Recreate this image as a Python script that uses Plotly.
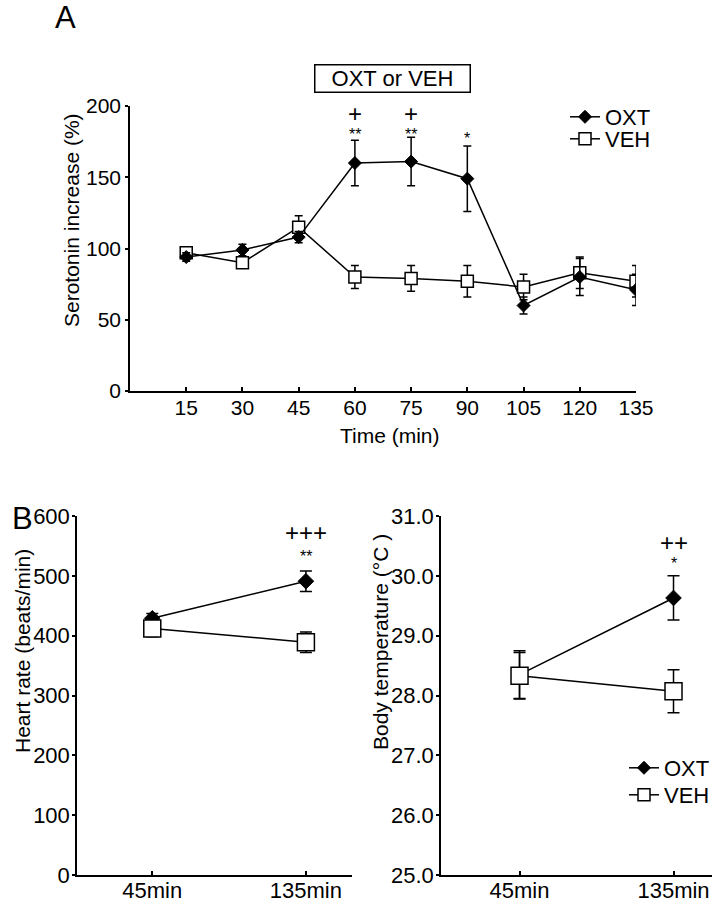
import plotly.graph_objects as go

# ---- panel A: serotonin increase over time ----
time_min = [15, 30, 45, 60, 75, 90, 105, 120, 135]
oxt_sero = [94, 99, 108, 160, 161, 149, 60, 80, 71]
oxt_sero_err = [3, 4, 4, 16, 17, 23, 6, 13, 11]
veh_sero = [97, 90, 115, 80, 79, 77, 73, 83, 77]
veh_sero_err = [4, 3, 8, 8, 9, 11, 9, 11, 11]

sig_a_x = [60, 75, 90]
sig_a_plus = ["+", "+", ""]
sig_a_star = ["**", "**", "*"]
sig_a_star_y = [180, 180, 177.5]

# ---- panel B: heart rate / body temperature ----
b_times = ["45min", "135min"]
oxt_hr = [429, 491]
oxt_hr_err = [8, 17]
veh_hr = [412, 389]
veh_hr_err = [14, 17]
oxt_temp = [28.35, 29.63]
oxt_temp_err = [0.40, 0.37]
veh_temp = [28.33, 28.07]
veh_temp_err = [0.39, 0.36]

W, H = 717, 899
FONT = "Liberation Sans, Arial, Helvetica, sans-serif"


def fx(p):
    return p / W


def fy(p):
    return 1 - p / H


def err(vals, w):
    return dict(type="data", array=vals, color="black", thickness=1.5, width=w)


def note(x, y, text, size, xref="paper", yref="paper", **kw):
    return dict(x=x, y=y, xref=xref, yref=yref, text=text, showarrow=False,
                xanchor="center", yanchor="middle", font=dict(size=size), **kw)


def leg(x, y):
    return dict(x=fx(x), y=fy(y), xanchor="left", yanchor="middle",
                font=dict(size=22), bgcolor="rgba(0,0,0,0)", itemwidth=30)


oxt_style = dict(mode="lines+markers", line=dict(color="black", width=1.5),
                 marker=dict(symbol="diamond", color="black", size=10,
                             line=dict(color="black", width=1)))
veh_style = dict(mode="lines+markers", line=dict(color="black", width=1.5),
                 marker=dict(symbol="square", color="white", size=12,
                             line=dict(color="black", width=1.5)))
big_oxt = dict(oxt_style, marker=dict(oxt_style["marker"], size=12))
big_veh = dict(veh_style, marker=dict(veh_style["marker"], size=17))

fig = go.Figure()

# panel A
fig.add_trace(go.Scatter(x=time_min, y=veh_sero, error_y=err(veh_sero_err, 4),
                         name="VEH", xaxis="x", yaxis="y", legend="legend3",
                         **veh_style))
fig.add_trace(go.Scatter(x=time_min, y=oxt_sero, error_y=err(oxt_sero_err, 4),
                         name="OXT", xaxis="x", yaxis="y", legend="legend",
                         **oxt_style))

# panel B left (heart rate)
fig.add_trace(go.Scatter(x=b_times, y=oxt_hr, error_y=err(oxt_hr_err, 6),
                         name="OXT", xaxis="x2", yaxis="y2", showlegend=False,
                         **big_oxt))
fig.add_trace(go.Scatter(x=b_times, y=veh_hr, error_y=err(veh_hr_err, 6),
                         name="VEH", xaxis="x2", yaxis="y2", showlegend=False,
                         **big_veh))

# panel B right (body temperature)
fig.add_trace(go.Scatter(x=b_times, y=oxt_temp, error_y=err(oxt_temp_err, 6),
                         name="OXT", xaxis="x3", yaxis="y3", showlegend=False,
                         **big_oxt))
fig.add_trace(go.Scatter(x=b_times, y=veh_temp, error_y=err(veh_temp_err, 6),
                         name="VEH", xaxis="x3", yaxis="y3", showlegend=False,
                         **big_veh))
# legend entries for panel B use the smaller symbols of the original key
fig.add_trace(go.Scatter(x=[None], y=[None], name="OXT", xaxis="x3", yaxis="y3",
                         legend="legend2", **oxt_style))
fig.add_trace(go.Scatter(x=[None], y=[None], name="VEH", xaxis="x3", yaxis="y3",
                         legend="legend4", **veh_style))

axis_common = dict(showline=True, linecolor="black", linewidth=1.5,
                   showgrid=False, zeroline=False, tickwidth=1.5,
                   tickcolor="black", automargin=False,
                   tickfont=dict(size=21, color="black"))
x_ticks = dict(axis_common, ticks="inside", ticklen=4)
y_ticks = dict(axis_common, ticks="outside", ticklen=3)

annots = []
# significance marks, panel A
for x, p, s, sy in zip(sig_a_x, sig_a_plus, sig_a_star, sig_a_star_y):
    if p:
        annots.append(note(x, 195, p, 24, "x", "y"))
    annots.append(note(x, sy, s, 16, "x", "y"))

annots += [
    note(b_times[1], 572, "+++", 24, "x2", "y2"),
    note(b_times[1], 533, "**", 16, "x2", "y2"),
    note(b_times[1], 30.55, "++", 24, "x3", "y3"),
    note(b_times[1], 30.20, "*", 16, "x3", "y3"),
    # panel letters
    note(fx(65), fy(18), "A", 31),
    note(fx(22), fy(518), "B", 31),
    # injection box
    note(fx(392), fy(78), "OXT or VEH", 22, bordercolor="black",
         borderwidth=1.5, borderpad=1, width=152, height=24),
    # axis titles
    note(fx(72), fy(220), "Serotonin increase (%)", 21, textangle=-90),
    note(fx(390), fy(435), "Time (min)", 21),
    note(fx(22), fy(651), "Heart rate (beats/min)", 21, textangle=-90),
    note(fx(380), fy(642), "Body temperature (°C )", 21, textangle=-90),
]

fig.update_layout(
    template="none",
    width=W, height=H,
    margin=dict(l=0, r=0, t=0, b=0, autoexpand=False),
    paper_bgcolor="white", plot_bgcolor="white",
    font=dict(family=FONT, color="black"),
    xaxis=dict(x_ticks, domain=[fx(130), fx(636)], range=[0, 135],
               tickvals=time_min, anchor="y", ticklabelstandoff=-3),
    yaxis=dict(y_ticks, domain=[fy(391), fy(106)], range=[0, 200],
               tickvals=[0, 50, 100, 150, 200], anchor="x"),
    xaxis2=dict(x_ticks, domain=[fx(77), fx(352)], range=[-0.49, 1.3],
                type="category", anchor="y2", tickfont=dict(size=22),
                ticklabelstandoff=-5),
    yaxis2=dict(y_ticks, domain=[fy(875), fy(516)], range=[0, 600],
                dtick=100, anchor="x2", tickfont=dict(size=22),
                ticklabelstandoff=-2),
    xaxis3=dict(x_ticks, domain=[fx(441), fx(712)], range=[-0.51, 1.25],
                type="category", anchor="y3", tickfont=dict(size=22),
                ticklabelstandoff=-5),
    yaxis3=dict(y_ticks, domain=[fy(875), fy(516)], range=[25, 31],
                dtick=1, tickformat=".1f", anchor="x3", tickfont=dict(size=22),
                ticklabelstandoff=-2),
    legend=leg(565, 117),
    legend3=leg(565, 139),
    legend2=leg(624, 768),
    legend4=leg(624, 795),
    annotations=annots,
)

# drop the default body margin so the figure sits at the window's corner
post = """
document.documentElement.style.overflow='hidden';
document.body.style.margin='0';
document.body.style.overflow='hidden';
"""
fig.write_html("out.html", post_script=post, config={"displayModeBar": False})
